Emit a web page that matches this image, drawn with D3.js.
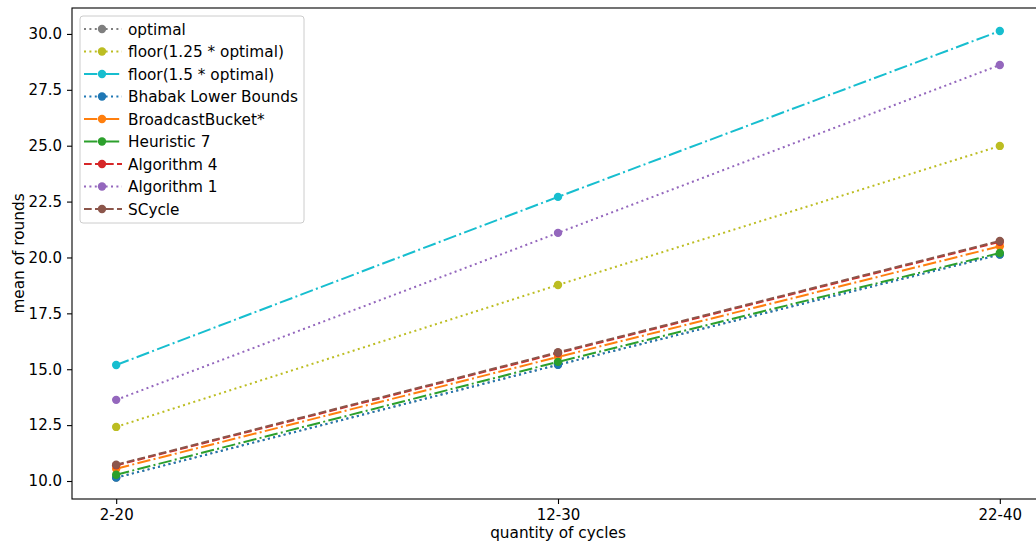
<!DOCTYPE html>
<html>
<head>
<meta charset="utf-8">
<script src="https://cdn.jsdelivr.net/npm/d3@7"></script>
<style>
  body { margin: 0; background: #fff; }
  text { font-family: "DejaVu Sans", sans-serif; }
</style>
</head>
<body>
<div id="chart"></div>
<script>
// categories on the x axis
const categories = ["2-20", "12-30", "22-40"];

// series names, in plotting order
const seriesNames = ["optimal", "floor(1.25 * optimal)", "floor(1.5 * optimal)",
  "Bhabak Lower Bounds", "BroadcastBucket*", "Heuristic 7", "Algorithm 4",
  "Algorithm 1", "SCycle"];

// mean of rounds
const optimal      = [10.15, 15.2, 20.13];
const floor125     = [12.42, 18.77, 24.99];
const floor150     = [15.19, 22.71, 30.13];
const bhabak       = [10.15, 15.2, 20.13];
const broadcast    = [10.55, 15.55, 20.5];
const heuristic7   = [10.28, 15.33, 20.2];
const algorithm4   = [10.7, 15.72, 20.7];
const algorithm1   = [13.63, 21.1, 28.61];
const scycle       = [10.73, 15.76, 20.74];

const yTicks = [10, 12.5, 15, 17.5, 20, 22.5, 25, 27.5, 30];

const seriesValues = [optimal, floor125, floor150, bhabak, broadcast,
  heuristic7, algorithm4, algorithm1, scycle];
const colors = ["#7f7f7f", "#bcbd22", "#17becf", "#1f77b4", "#ff7f0e",
  "#2ca02c", "#d62728", "#9467bd", "#8c564b"];
const dotted = "2,3.4", dashed = "7.7,3.3", dashdot = "13.3,3.3,2,3.3";
const dashes = [dotted, dotted, dashdot, dotted, dashdot, dashdot, dashed, dotted, dashed];

const W = 1036, H = 546;
const margin = { top: 8, left: 72, bottom: 47 };
const plotBottom = H - margin.bottom;
const fs = 15.3;

const svg = d3.select("#chart").append("svg")
  .attr("width", W).attr("height", H);

// matplotlib-style 5% padding around category positions
const x = d3.scaleLinear().domain([-0.1, 2.1]).range([margin.left, 1044]);
const y = d3.scaleLinear().domain([9.195, 31.16]).range([plotBottom, margin.top]);

// axes
const xAxis = svg.append("g")
  .attr("transform", "translate(0," + plotBottom + ")")
  .call(d3.axisBottom(x).tickValues([0, 1, 2])
    .tickFormat(i => categories[i]).tickSize(5).tickPadding(5));
const yAxis = svg.append("g")
  .attr("transform", "translate(" + margin.left + ",0)")
  .call(d3.axisLeft(y).tickValues(yTicks)
    .tickFormat(d3.format(".1f")).tickSize(5).tickPadding(5));
[xAxis, yAxis].forEach(a => {
  a.select(".domain").remove();
  a.selectAll("text").attr("font-size", 15).attr("fill", "#000")
    .attr("font-family", "DejaVu Sans");
  a.selectAll("line").attr("stroke", "#000").attr("stroke-width", 1.1);
});

// frame
svg.append("rect")
  .attr("x", margin.left).attr("y", margin.top)
  .attr("width", 1044 - margin.left).attr("height", plotBottom - margin.top)
  .attr("fill", "none").attr("stroke", "#000").attr("stroke-width", 1.1);

// axis labels
svg.append("text")
  .attr("x", x(1)).attr("y", 538)
  .attr("text-anchor", "middle").attr("font-size", fs)
  .text("quantity of cycles");
svg.append("text")
  .attr("transform", "translate(24," + ((margin.top + plotBottom) / 2) + ") rotate(-90)")
  .attr("text-anchor", "middle").attr("font-size", fs)
  .text("mean of rounds");

// lines and markers
const line = d3.line().x((d, i) => x(i)).y(d => y(d));
seriesValues.forEach((vals, k) => {
  const g = svg.append("g");
  g.append("path")
    .attr("d", line(vals))
    .attr("fill", "none")
    .attr("stroke", colors[k])
    .attr("stroke-width", 2)
    .attr("stroke-dasharray", dashes[k]);
  g.selectAll("circle")
    .data(vals)
    .enter().append("circle")
    .attr("cx", (d, i) => x(i))
    .attr("cy", d => y(d))
    .attr("r", 4.2)
    .attr("fill", colors[k]);
});

// legend
const legend = svg.append("g").attr("transform", "translate(80,16)");
legend.append("rect")
  .attr("width", 224).attr("height", 207)
  .attr("rx", 3)
  .attr("fill", "#fff").attr("fill-opacity", 0.8)
  .attr("stroke", "#ccc").attr("stroke-width", 1);
seriesNames.forEach((name, k) => {
  const yy = 13 + k * 22.5;
  legend.append("line")
    .attr("x1", 4).attr("x2", 42).attr("y1", yy).attr("y2", yy)
    .attr("stroke", colors[k]).attr("stroke-width", 2)
    .attr("stroke-dasharray", dashes[k]);
  legend.append("circle")
    .attr("cx", 22).attr("cy", yy).attr("r", 4.2)
    .attr("fill", colors[k]);
  legend.append("text")
    .attr("x", 48).attr("y", yy + 5.5)
    .attr("font-size", fs)
    .text(name);
});
</script>
</body>
</html>
